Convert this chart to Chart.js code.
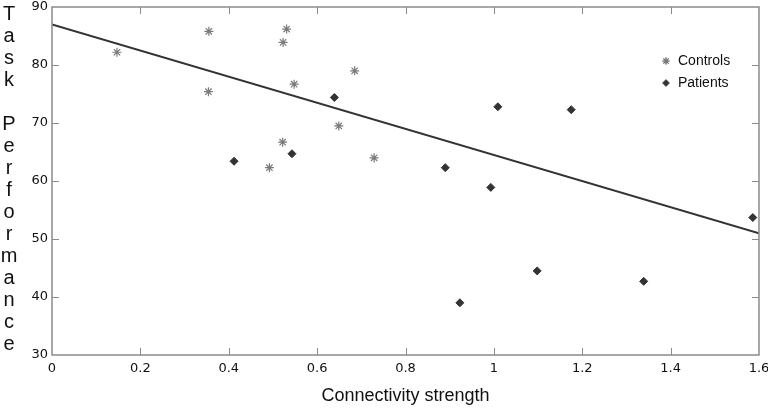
<!DOCTYPE html>
<html lang="en">
<head>
<meta charset="UTF-8">
<title>Task Performance vs Connectivity</title>
<script src="https://cdn.jsdelivr.net/npm/chart.js"></script>
<style>
  html, body { margin: 0; padding: 0; background: #fff; }
  #wrap { width: 768px; height: 409px; }
</style>
</head>
<body>
<div id="wrap"><canvas id="chart" width="768" height="409"></canvas></div>
<script>
// data
const controlsX = [0.147, 0.355, 0.354, 0.531, 0.523, 0.548, 0.685, 0.649, 0.522, 0.492, 0.729];
const controlsY = [82.2, 85.8, 75.4, 86.2, 83.9, 76.7, 79.0, 69.5, 66.7, 62.3, 64.0];
const patientsX = [0.412, 0.639, 0.543, 0.890, 0.993, 1.009, 1.175, 0.923, 1.098, 1.339, 1.586];
const patientsY = [63.4, 74.4, 64.7, 62.3, 58.9, 72.8, 72.3, 39.0, 44.5, 42.7, 53.7];
const fitX = [0, 1.6];
const fitY = [87.0, 51.0];
const yTitle = 'Task Performance';

const pts = (xs, ys) => xs.map((x, i) => ({ x: x, y: ys[i] }));

// box, inside ticks, stacked y title and legend
const decor = {
  id: 'decor',
  afterDraw(chart) {
    const ctx = chart.ctx, a = chart.chartArea;
    const xs = chart.scales.x, ys = chart.scales.y;
    ctx.save();
    ctx.strokeStyle = '#8a8a8a';
    ctx.lineWidth = 1.5;
    ctx.strokeRect(a.left, a.top, a.right - a.left, a.bottom - a.top);
    ctx.lineWidth = 1;
    ctx.beginPath();
    xs.ticks.forEach(t => {
      if (t.value <= xs.min || t.value >= xs.max) return;
      const px = Math.round(xs.getPixelForValue(t.value)) + 0.5;
      ctx.moveTo(px, a.bottom); ctx.lineTo(px, a.bottom - 7);
      ctx.moveTo(px, a.top); ctx.lineTo(px, a.top + 7);
    });
    ys.ticks.forEach(t => {
      if (t.value <= ys.min || t.value >= ys.max) return;
      const py = Math.round(ys.getPixelForValue(t.value)) + 0.5;
      ctx.moveTo(a.left, py); ctx.lineTo(a.left + 7, py);
      ctx.moveTo(a.right, py); ctx.lineTo(a.right - 7, py);
    });
    ctx.stroke();

    // stacked y title
    ctx.fillStyle = '#111';
    ctx.font = '20px "Liberation Sans", Arial, sans-serif';
    ctx.textAlign = 'center';
    ctx.textBaseline = 'alphabetic';
    yTitle.split('').forEach((ch, i) => {
      if (ch !== ' ') ctx.fillText(ch, 9, 19.5 + i * 22);
    });

    // legend
    ctx.font = '14px "Liberation Sans", Arial, sans-serif';
    ctx.textAlign = 'left';
    ctx.textBaseline = 'middle';
    const lx = a.right - 93;
    [0, 1].forEach(k => {
      const ds = chart.data.datasets[k];
      const ly = a.top + 54 + k * 22;
      Chart.helpers.drawPoint(ctx, {
        pointStyle: ds.pointStyle, radius: ds.pointRadius * 0.8, rotation: 0, borderWidth: ds.borderWidth
      }, lx, ly);
      ctx.fillStyle = ds.borderColor;
      ctx.strokeStyle = ds.borderColor;
      ctx.lineWidth = ds.borderWidth;
      if (ds.pointStyle === 'star') ctx.stroke(); else { ctx.fill(); }
      ctx.fillStyle = '#111';
      ctx.fillText(ds.label, lx + 12, ly);
    });
    ctx.restore();
  }
};

const tickFont = { family: '"DejaVu Sans", Verdana, sans-serif', size: 13 };

new Chart(document.getElementById('chart'), {
  type: 'scatter',
  data: {
    datasets: [
      {
        label: 'Controls',
        data: pts(controlsX, controlsY),
        pointStyle: 'star',
        pointRadius: 4.5,
        borderColor: '#7a7a7a',
        backgroundColor: '#7a7a7a',
        borderWidth: 1.2
      },
      {
        label: 'Patients',
        data: pts(patientsX, patientsY),
        pointStyle: 'rectRot',
        pointRadius: 4,
        borderColor: '#333333',
        backgroundColor: '#333333',
        borderWidth: 1
      },
      {
        label: 'Fit',
        type: 'line',
        data: pts(fitX, fitY),
        borderColor: '#333333',
        borderWidth: 2,
        pointRadius: 0,
        fill: false
      }
    ]
  },
  options: {
    responsive: false,
    animation: false,
    layout: { padding: { left: 0, top: 7, right: 9, bottom: 0 } },
    plugins: { legend: { display: false }, tooltip: { enabled: false } },
    scales: {
      x: {
        type: 'linear',
        min: 0, max: 1.6,
        ticks: {
          stepSize: 0.2, color: '#111', font: tickFont, padding: 6, maxRotation: 0,
          callback: v => String(Math.round(v * 10) / 10)
        },
        grid: { display: false, drawTicks: false },
        border: { display: false },
        title: {
          display: true, text: 'Connectivity strength', color: '#111',
          font: { family: '"Liberation Sans", Arial, sans-serif', size: 18 },
          padding: { top: 0, bottom: 2 }
        },
        afterFit: s => { s.height = 54; s.paddingLeft = 0; s.paddingRight = 0; }
      },
      y: {
        min: 30, max: 90,
        ticks: { stepSize: 10, color: '#111', font: tickFont, padding: 4 },
        grid: { display: false, drawTicks: false },
        border: { display: false },
        afterFit: s => { s.width = 52; s.paddingTop = 0; s.paddingBottom = 0; }
      }
    }
  },
  plugins: [decor]
});
</script>
</body>
</html>
